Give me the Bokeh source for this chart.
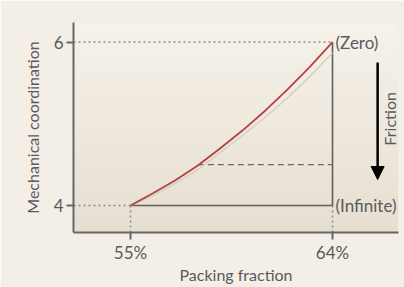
import math
from bokeh.plotting import figure
from bokeh.models import Range1d, FixedTicker, BoxAnnotation, Arrow, NormalHead, Label
from bokeh.embed import file_html
from bokeh.resources import INLINE

# ---- data ----
packing = [55, 56, 57, 58, 59, 60, 61, 62, 63, 64]
coord_zero = [4.0, 4.15, 4.31, 4.49, 4.70, 4.92, 5.16, 5.42, 5.70, 6.0]
coord_shadow = [4.0, 4.12, 4.27, 4.44, 4.65, 4.86, 5.08, 5.32, 5.58, 5.87]
x_ticks = [55, 64]
x_tick_labels = ["55%", "64%"]
y_ticks = [4, 6]
y_tick_labels = ["4", "6"]
zero_level = 6
infinite_level = 4
mid_level = 4.5
mid_start = 58.0

FONT = "Lato"
TXT = "#5a5a5a"
AX = "#666666"

p = figure(width=404, height=287, output_backend="svg", toolbar_location=None,
           x_range=Range1d(52.46, 66.94), y_range=Range1d(3.67, 6.239),
           min_border_left=73, min_border_right=6, min_border_top=22, min_border_bottom=55)
p.border_fill_color = "#f3efe6"
p.background_fill_color = "#eee8dd"
p.outline_line_color = None
p.grid.visible = False

# vertical gradient of plot area
n = 40
top_rgb = (0xf6, 0xf2, 0xea)
bot_rgb = (0xe6, 0xde, 0xd1)
y0, y1 = 3.67, 6.239
for i in range(n):
    f = i / (n - 1)
    c = tuple(int(round(bot_rgb[k] + (top_rgb[k] - bot_rgb[k]) * f)) for k in range(3))
    b = y0 + (y1 - y0) * i / n
    t = y0 + (y1 - y0) * (i + 1) / n + 0.002
    p.add_layout(BoxAnnotation(bottom=b, top=t, fill_color="#%02x%02x%02x" % c,
                               fill_alpha=1, line_alpha=0, level="underlay"))

# axes
for ax in (p.xaxis[0], p.yaxis[0]):
    ax.axis_line_color = AX
    ax.axis_line_width = 2
    ax.major_tick_line_color = AX
    ax.major_tick_line_width = 2
    ax.major_tick_out = 7
    ax.major_tick_in = 0
    ax.minor_tick_line_color = None
    ax.major_label_text_font = FONT
    ax.major_label_text_font_size = "17px"
    ax.major_label_text_color = TXT
    ax.axis_label_text_font = FONT
    ax.axis_label_text_font_size = "16px"
    ax.axis_label_text_color = TXT
    ax.axis_label_text_font_style = "normal"

p.xaxis.ticker = FixedTicker(ticks=x_ticks)
p.xaxis.major_label_overrides = dict(zip(x_ticks, x_tick_labels))
p.yaxis.ticker = FixedTicker(ticks=y_ticks)
p.yaxis.major_label_overrides = dict(zip(y_ticks, y_tick_labels))
p.xaxis.axis_label = "Packing fraction"
p.yaxis.axis_label = "Mechanical coordination"
p.xaxis.major_label_standoff = 2
p.yaxis.major_label_standoff = 3
p.xaxis.axis_label_standoff = -1
p.yaxis.axis_label_standoff = 9

# dotted guide lines
DOT = "#8c8c8c"
xs = p.x_range.start
ys = p.y_range.start
p.line([xs, packing[-1]], [zero_level, zero_level], line_color=DOT, line_width=1.5, line_dash="2 3")
p.line([xs, packing[0]], [infinite_level, infinite_level], line_color=DOT, line_width=1.5, line_dash="2 3")
p.line([packing[0], packing[0]], [ys, infinite_level], line_color=DOT, line_width=1.5, line_dash="2 3")
p.line([packing[-1], packing[-1]], [ys, infinite_level], line_color=DOT, line_width=1.5, line_dash="2 3")

# triangle frame
FR = "#5f5f5f"
p.line([packing[0], packing[-1]], [infinite_level, infinite_level], line_color=FR, line_width=1.6)
p.line([packing[-1], packing[-1]], [infinite_level, zero_level], line_color=FR, line_width=1.6)
p.line([mid_start, packing[-1]], [mid_level, mid_level], line_color="#6a6a6a", line_width=1.4, line_dash="6 4")

# curves
p.line(packing, coord_shadow, line_color="#d8cfc3", line_width=1.5)
p.line(packing, coord_zero, line_color="#b4423f", line_width=1.8)

# labels
p.add_layout(Label(x=packing[-1], y=zero_level, text="(Zero)", x_offset=3,
                   text_baseline="middle", text_font=FONT, text_font_size="17px", text_color=TXT))
p.add_layout(Label(x=packing[-1], y=infinite_level, text="(Infinite)", x_offset=3,
                   text_baseline="middle", text_font=FONT, text_font_size="17px", text_color=TXT))
p.add_layout(Label(x=66.54, y=5.06, text="Friction", angle=math.pi / 2,
                   text_align="center", text_baseline="middle",
                   text_font=FONT, text_font_size="16px", text_color=TXT))
p.add_layout(Arrow(end=NormalHead(size=13, fill_color="black", line_color="black"),
                   x_start=66.01, y_start=5.75, x_end=66.01, y_end=4.318,
                   line_color="black", line_width=2.5))

open("out.html", "w").write(file_html(p, INLINE))
